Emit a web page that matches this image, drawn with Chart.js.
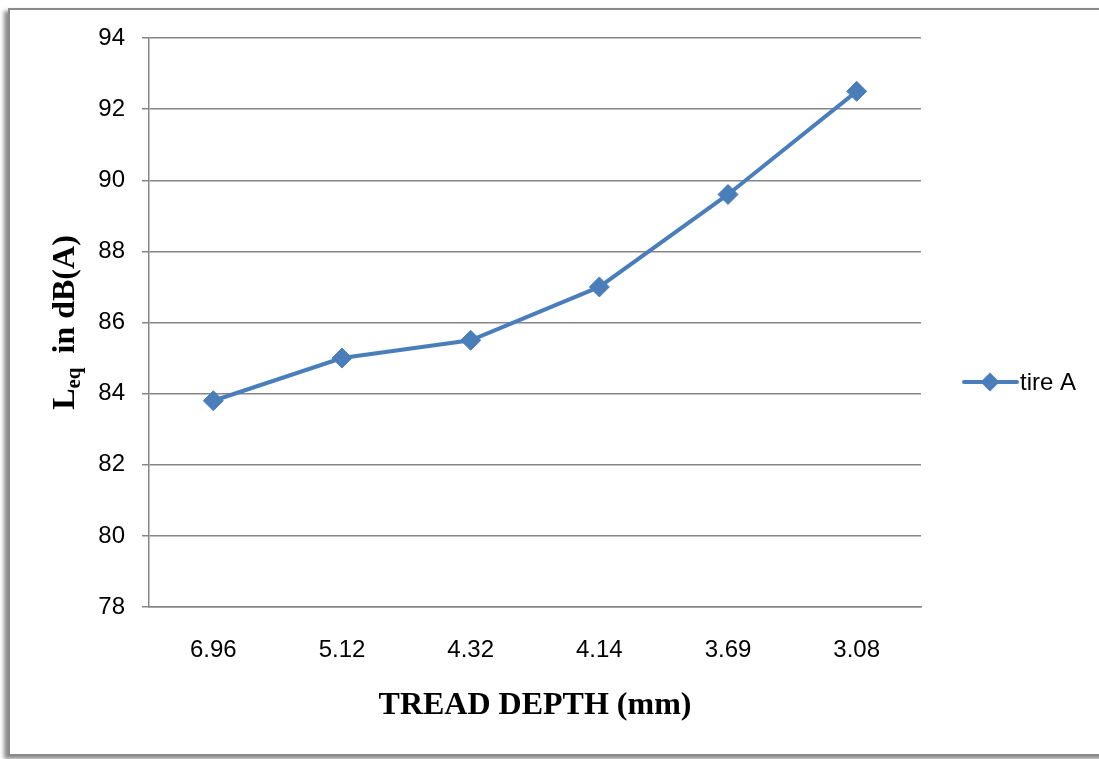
<!DOCTYPE html>
<html>
<head>
<meta charset="utf-8">
<script src="https://cdn.jsdelivr.net/npm/chart.js@4"></script>
<style>
  html, body { margin: 0; padding: 0; background: #fff; overflow: hidden; }
  #wrap { position: relative; width: 1099px; height: 759px; }
  #frame {
    position: absolute; left: 8px; top: 8px; width: 1110px; height: 744px;
    border: 2px solid #8a8a8a; box-shadow: -4px 3px 4px rgba(0,0,0,0.45);
    background: #fff;
  }
  #chart { position: absolute; left: 0; top: 0; }
</style>
</head>
<body>
<div id="wrap">
  <div id="frame"></div>
  <canvas id="chart" width="1099" height="759"></canvas>
</div>
<script>
const depths = ['6.96', '5.12', '4.32', '4.14', '3.69', '3.08'];
const tireA = [83.8, 85.0, 85.5, 87.0, 89.6, 92.5];
const seriesName = 'tire A';
const yTicks = [78, 80, 82, 84, 86, 88, 90, 92, 94];

const blue = '#4a7ebb';
const axisGray = '#868686';
const sansFamily = '"Liberation Sans", Arial, sans-serif';
const serifFamily = '"Liberation Serif", "Times New Roman", serif';
const tickFont = { family: sansFamily, size: 24 };

// y title with subscript, plus the line+diamond legend on the right
const extras = {
  id: 'extras',
  afterDraw(chart) {
    const ctx = chart.ctx;
    const area = chart.chartArea;
    ctx.save();
    const big = 'bold 32px ' + serifFamily;
    const small = 'bold 21px ' + serifFamily;
    ctx.font = big;
    const wL = ctx.measureText('L').width;
    const wRest = ctx.measureText(' in dB(A)').width;
    ctx.font = small;
    const wSub = ctx.measureText('eq').width + 6;
    const total = wL + wSub + wRest;
    const cy = (area.top + area.bottom) / 2;
    ctx.translate(74, cy + total / 2);
    ctx.rotate(-Math.PI / 2);
    ctx.fillStyle = '#000';
    ctx.textBaseline = 'alphabetic';
    ctx.textAlign = 'left';
    ctx.font = big;
    ctx.fillText('L', 0, 0);
    ctx.font = small;
    ctx.fillText('eq', wL, 6);
    ctx.font = big;
    ctx.fillText(' in dB(A)', wL + wSub, 0);
    ctx.restore();

    // legend
    const ly = 382;
    ctx.save();
    ctx.strokeStyle = blue;
    ctx.lineWidth = 4;
    ctx.lineCap = 'round';
    ctx.beginPath();
    ctx.moveTo(964, ly);
    ctx.lineTo(1017, ly);
    ctx.stroke();
    ctx.fillStyle = blue;
    ctx.beginPath();
    ctx.moveTo(990, ly - 9.5);
    ctx.lineTo(999.5, ly);
    ctx.lineTo(990, ly + 9.5);
    ctx.lineTo(980.5, ly);
    ctx.closePath();
    ctx.fill();
    ctx.fillStyle = '#000';
    ctx.font = '24px ' + sansFamily;
    ctx.textBaseline = 'middle';
    ctx.fillText(seriesName, 1020, ly + 1);
    ctx.restore();
  }
};

new Chart(document.getElementById('chart'), {
  type: 'line',
  data: {
    labels: depths,
    datasets: [{
      label: seriesName,
      data: tireA,
      borderColor: blue,
      backgroundColor: blue,
      borderWidth: 4,
      pointStyle: 'rectRot',
      pointRadius: 10,
      pointBorderWidth: 1,
      pointBorderColor: blue,
      pointBackgroundColor: blue,
      tension: 0,
    }],
  },
  options: {
    responsive: false,
    animation: false,
    layout: { padding: { left: 0, top: 38, right: 178, bottom: 0 } },
    plugins: { legend: { display: false }, tooltip: { enabled: false } },
    scales: {
      x: {
        offset: true,
        grid: { display: false, drawTicks: false },
        border: { color: axisGray, width: 1.5 },
        ticks: { color: '#000', font: tickFont, padding: 29 },
        title: {
          display: true,
          text: 'TREAD DEPTH (mm)',
          color: '#000',
          font: { family: serifFamily, size: 32, weight: 'bold' },
          padding: { top: 0, bottom: 34 },
        },
        afterFit(scale) { scale.height = 152; },
      },
      y: {
        min: yTicks[0],
        max: yTicks[yTicks.length - 1],
        afterBuildTicks(scale) { scale.ticks = yTicks.map((v) => ({ value: v })); },
        grid: { color: axisGray, lineWidth: 1.5, tickLength: 7 },
        border: { color: axisGray, width: 1.5 },
        ticks: { color: '#000', font: tickFont, padding: 17 },
        afterFit(scale) { scale.width = 149; },
      },
    },
  },
  plugins: [extras],
});
</script>
</body>
</html>
